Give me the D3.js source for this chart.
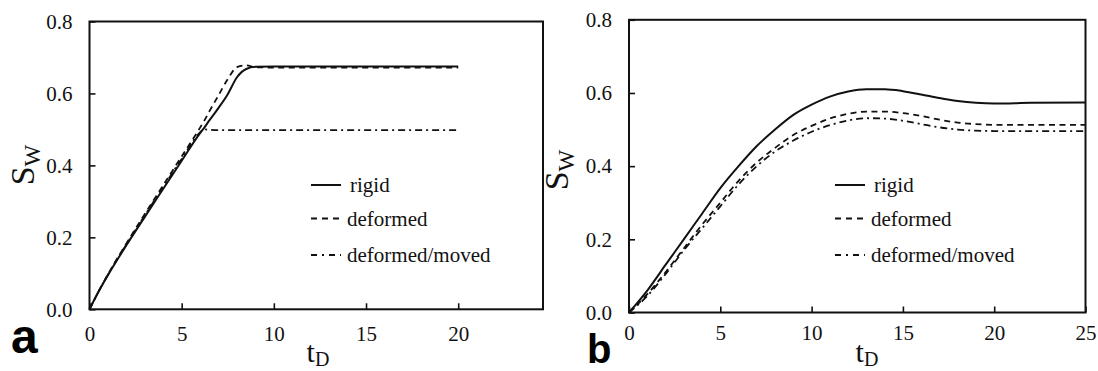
<!DOCTYPE html>
<html>
<head>
<meta charset="utf-8">
<script src="https://cdn.jsdelivr.net/npm/d3@7"></script>
<style>
  html, body { margin: 0; padding: 0; background: #fff; }
  svg { display: block; }
</style>
</head>
<body>
<svg id="fig" width="1098" height="371"></svg>
<script>
// ---- Panel a: water saturation vs dimensionless time ----
const aTime     = [0, 0.5, 1, 2, 3, 4, 5, 6, 6.2, 6.5, 7, 7.5, 8, 8.5, 9, 10, 15, 20];
const aRigid    = [0, 0.05, 0.095, 0.178, 0.257, 0.335, 0.413, 0.49, 0.503, 0.525, 0.56, 0.598, 0.645, 0.668, 0.674, 0.675, 0.675, 0.675];
const aDeformed = [0, 0.05, 0.097, 0.183, 0.265, 0.345, 0.425, 0.505, 0.522, 0.55, 0.595, 0.64, 0.673, 0.678, 0.673, 0.672, 0.672, 0.672];
const aMoved    = [0, 0.05, 0.096, 0.18, 0.261, 0.34, 0.418, 0.492, 0.5, 0.499, 0.498, 0.498, 0.498, 0.498, 0.498, 0.498, 0.498, 0.498];
const aXTicks   = [0, 5, 10, 15, 20];

// ---- Panel b ----
const bTime     = [0, 1, 2, 3, 4, 5, 6, 7, 8, 9, 10, 11, 12, 13, 14, 15, 16, 17, 18, 19, 20, 22, 25];
const bRigid    = [0, 0.06, 0.13, 0.2, 0.27, 0.34, 0.4, 0.455, 0.5, 0.54, 0.568, 0.59, 0.604, 0.61, 0.61, 0.605, 0.596, 0.586, 0.578, 0.573, 0.571, 0.573, 0.574];
const bDeformed = [0, 0.05, 0.11, 0.175, 0.24, 0.3, 0.36, 0.41, 0.45, 0.485, 0.51, 0.53, 0.543, 0.549, 0.549, 0.545, 0.537, 0.527, 0.519, 0.515, 0.513, 0.513, 0.513];
const bMoved    = [0, 0.045, 0.105, 0.17, 0.23, 0.29, 0.35, 0.4, 0.44, 0.47, 0.494, 0.512, 0.525, 0.531, 0.53, 0.524, 0.515, 0.506, 0.5, 0.497, 0.496, 0.496, 0.496];
const bXTicks   = [0, 5, 10, 15, 20, 25];

const yTicks = [0, 0.2, 0.4, 0.6, 0.8];
const seriesNames = ["rigid", "deformed", "deformed/moved"];
const dashes = [null, "6,4.5", "7,4,2,4"];

const SERIF = "Liberation Serif";
const SANS = "Liberation Sans";
const INK = "#111";

const svg = d3.select("#fig");

function drawPanel(cfg) {
  const g = svg.append("g");
  const x = d3.scaleLinear().domain(cfg.xDomain).range([cfg.left, cfg.right]);
  const y = d3.scaleLinear().domain([0, 0.8]).range([cfg.bottom, cfg.top]);

  // x axis with inward ticks
  const xa = g.append("g").attr("transform", `translate(0,${cfg.bottom})`)
    .call(d3.axisBottom(x).tickValues(cfg.xTicks).tickFormat(d3.format("d"))
      .tickSizeInner(-6).tickSizeOuter(0).tickPadding(cfg.xPad));
  xa.attr("font-family", SERIF).attr("font-size", 21);
  xa.select(".domain").remove();
  xa.selectAll(".tick line").attr("stroke", INK).attr("stroke-width", 1.6);
  xa.selectAll(".tick text").attr("fill", INK);

  const ya = g.append("g").attr("transform", `translate(${cfg.left},0)`)
    .call(d3.axisLeft(y).tickValues(yTicks).tickFormat(d3.format(".1f"))
      .tickSizeInner(-6).tickSizeOuter(0).tickPadding(cfg.yPad));
  ya.attr("font-family", SERIF).attr("font-size", 21);
  ya.select(".domain").remove();
  ya.selectAll(".tick line").attr("stroke", INK).attr("stroke-width", 1.6);
  ya.selectAll(".tick text").attr("fill", INK);

  // frame
  g.append("rect")
    .attr("x", cfg.left).attr("y", cfg.top)
    .attr("width", cfg.right - cfg.left).attr("height", cfg.bottom - cfg.top)
    .attr("fill", "none").attr("stroke", INK).attr("stroke-width", 2);

  // curves
  const line = d3.line()
    .x((d, i) => x(cfg.time[i]))
    .y(d => y(d))
    .curve(d3.curveMonotoneX);
  cfg.series.forEach((vals, k) => {
    g.append("path")
      .attr("d", line(vals))
      .attr("fill", "none")
      .attr("stroke", INK)
      .attr("stroke-width", k === 0 ? 2 : 1.8)
      .attr("stroke-dasharray", dashes[k]);
  });

  // legend
  seriesNames.forEach((name, k) => {
    const ly = cfg.legendY[k];
    g.append("line")
      .attr("x1", cfg.legendX).attr("x2", cfg.legendX + 30)
      .attr("y1", ly).attr("y2", ly)
      .attr("stroke", INK).attr("stroke-width", 2)
      .attr("stroke-dasharray", k === 1 ? "6,5" : (k === 2 ? "6,5,2,5" : null));
    g.append("text")
      .attr("font-family", SERIF).attr("font-size", 21).attr("fill", INK)
      .attr("x", cfg.legendX + (k === 0 ? 39 : 36)).attr("y", ly + 7)
      .text(name);
  });

  // axis titles
  const tx = g.append("text")
    .attr("font-family", SERIF).attr("fill", INK)
    .attr("x", cfg.tdX).attr("y", cfg.tdY).attr("text-anchor", "middle");
  tx.append("tspan").attr("font-size", 30).text("t");
  tx.append("tspan").attr("font-size", 20).attr("dy", 4).text("D");

  const sy = g.append("text")
    .attr("font-family", SERIF).attr("fill", INK)
    .attr("transform", `translate(${cfg.swX},${cfg.swY}) rotate(-90)`)
    .attr("text-anchor", "middle");
  sy.append("tspan").attr("font-size", 34).text("S");
  sy.append("tspan").attr("font-size", 23).attr("dy", 6).text("W");

  // panel tag
  g.append("text")
    .attr("font-family", SANS).attr("font-weight", "bold")
    .attr("font-size", cfg.tagSize).attr("fill", "#000")
    .attr("x", cfg.tagX).attr("y", cfg.tagY).text(cfg.tag);
}

drawPanel({
  left: 89.5, right: 543, top: 21.5, bottom: 309.3,
  xDomain: [0, 24.6], xTicks: aXTicks, xPad: 17, yPad: 17,
  time: aTime, series: [aRigid, aDeformed, aMoved],
  legendX: 311, legendY: [185, 218.5, 255],
  tdX: 318, tdY: 362, swX: 34, swY: 165,
  tag: "a", tagSize: 48, tagX: 11, tagY: 353
});

drawPanel({
  left: 629, right: 1085.5, top: 19.8, bottom: 312.5,
  xDomain: [0, 25], xTicks: bXTicks, xPad: 13, yPad: 17,
  time: bTime, series: [bRigid, bDeformed, bMoved],
  legendX: 835, legendY: [185, 218.5, 255],
  tdX: 867, tdY: 362, swX: 568, swY: 170,
  tag: "b", tagSize: 40, tagX: 587, tagY: 362.5
});
</script>
</body>
</html>
